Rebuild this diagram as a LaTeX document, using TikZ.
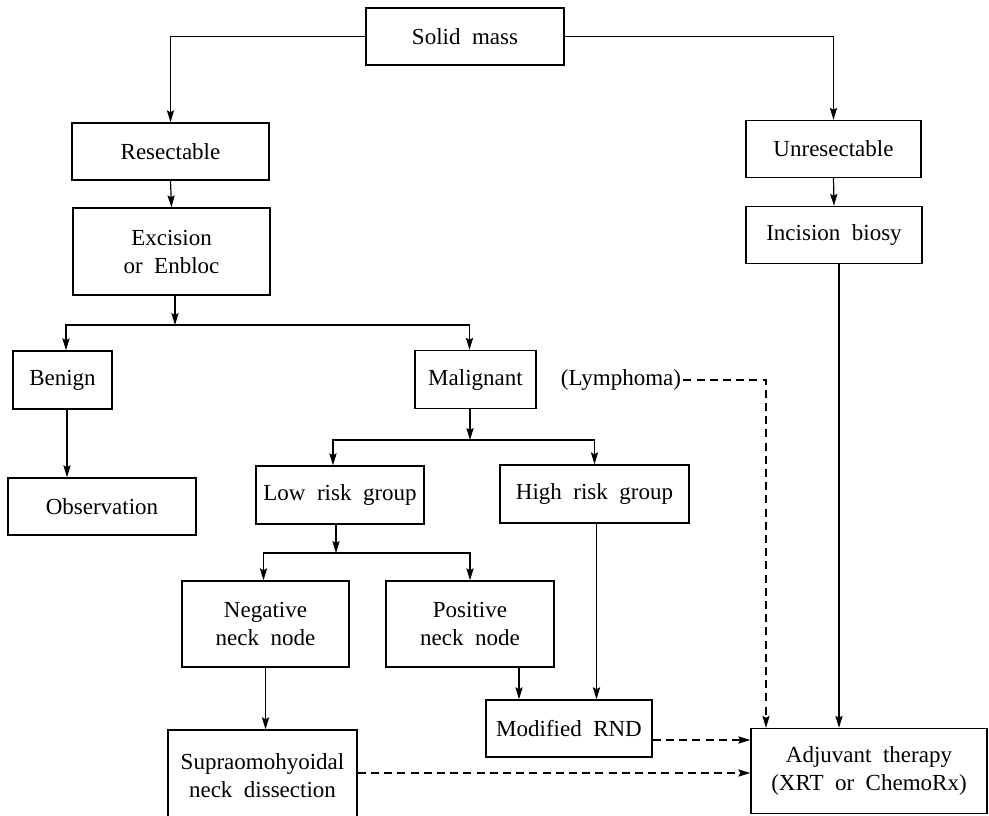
\documentclass[tikz,border=0pt]{standalone}
\usepackage{fontspec}
\setmainfont{Liberation Serif}
\usetikzlibrary{arrows.meta,calc}
\tikzset{
  box/.style={draw, line width=0.7pt, inner sep=2pt, align=center,
              font=\fontsize{11.5}{14}\selectfont, minimum height=28.5pt},
  tall/.style={box, minimum height=43.5pt},
  flow/.style={-{Stealth[length=6pt,width=3.6pt,inset=1pt]}, line width=0.6pt},
  dflow/.style={flow, dash pattern=on 4pt off 2.6pt},
}
\begin{document}
\begin{tikzpicture}[x=0.5pt,y=-0.5pt]
    \useasboundingbox (0,0) rectangle (989,815);
    \node[box,minimum width=99pt] (sm) at (465,36.5) {Solid\ \ mass};
    \node[box,minimum width=98.5pt] (res) at (170.5,151.5) {Resectable};
    \node[tall,minimum width=98.5pt] (exc) at (171.5,251.5) {Excision\\or\ \ Enbloc};
    \node[box,minimum width=87.5pt] (unres) at (833.5,149) {Unresectable};
    \node[box,minimum width=88pt] (inc) at (834,235) {Incision\ \ biosy};
    \node[box,minimum width=49.5pt,minimum height=29pt] (ben) at (62.5,380) {Benign};
    \node[box,minimum width=60.5pt,minimum height=29pt] (mal) at (475.5,379.5) {Malignant};
    \node[font=\fontsize{11.5}{14}\selectfont,inner sep=1pt] (lym) at (621,380) {(Lymphoma)};
    \node[box,minimum width=94pt] (obs) at (102,506.5) {Observation};
    \node[box,minimum width=84pt,minimum height=29pt] (low) at (340,495) {Low\ \ risk\ \ group};
    \node[box,minimum width=94.5pt,minimum height=29pt] (high) at (594.5,494) {High\ \ risk\ \ group};
    \node[tall,minimum width=83.5pt,minimum height=43pt] (neg) at (265.5,624) {Negative\\neck\ \ node};
    \node[tall,minimum width=84pt,minimum height=43pt] (pos) at (470,624) {Positive\\neck\ \ node};
    \node[box,minimum width=83pt] (mod) at (569,728.5) {Modified\ \ RND};
    \node[tall,minimum width=94.5pt,minimum height=46pt] (sup) at (262.5,776) {Supraomohyoidal\\neck\ \ dissection};
    \node[tall,minimum width=118pt,minimum height=42.5pt] (adj) at (869,771) {Adjuvant\ \ therapy\\(XRT\ \ or\ \ ChemoRx)};

    \coordinate (j1) at (175,325);
    \coordinate (j2) at (470,440);
    \coordinate (j3) at (336,553);

    \draw[flow] (sm.west) -| (res.north);
    \draw[flow] (sm.east) -| (unres.north);
    \draw[flow] (res.south) -- (exc.north);
    \draw[flow] (unres.south) -- (inc.north);
    \draw[flow] (exc.south -| j1) -- (j1);
    \draw[flow] (j1) -| ([xshift=1.75pt]ben.north);
    \draw[flow] (j1) -| ([xshift=-3pt]mal.north);
    \draw[flow] ([xshift=2.25pt]ben.south) -- ([xshift=2.25pt]ben.south |- obs.north);
    \draw[flow] (mal.south -| j2) -- (j2);
    \draw[flow] (j2) -| ([xshift=-3.5pt]low.north);
    \draw[flow] (j2) -| (high.north);
    \draw[flow] (low.south -| j3) -- (j3);
    \draw[flow] (j3) -| ([xshift=-1pt]neg.north);
    \draw[flow] (j3) -| (pos.north);
    \draw[flow] (neg.south) -- (neg.south |- sup.north);
    \draw[flow] ([xshift=24.5pt]pos.south) -- ([xshift=24.5pt]pos.south |- mod.north);
    \draw[flow] ([xshift=1pt]high.south) -- ([xshift=1pt]high.south |- mod.north);
    \draw[flow] ([xshift=2.5pt]inc.south) -- ([xshift=2.5pt]inc.south |- adj.north);
    \draw[dflow] (lym.east) -| ([xshift=-51.5pt]adj.north);
    \draw[dflow] ([yshift=-5.75pt]mod.east) -- ([yshift=-5.75pt]mod.east -| adj.west);
    \draw[dflow] ([yshift=1.5pt]sup.east) -- ([yshift=1.5pt]sup.east -| adj.west);
\end{tikzpicture}
\end{document}
